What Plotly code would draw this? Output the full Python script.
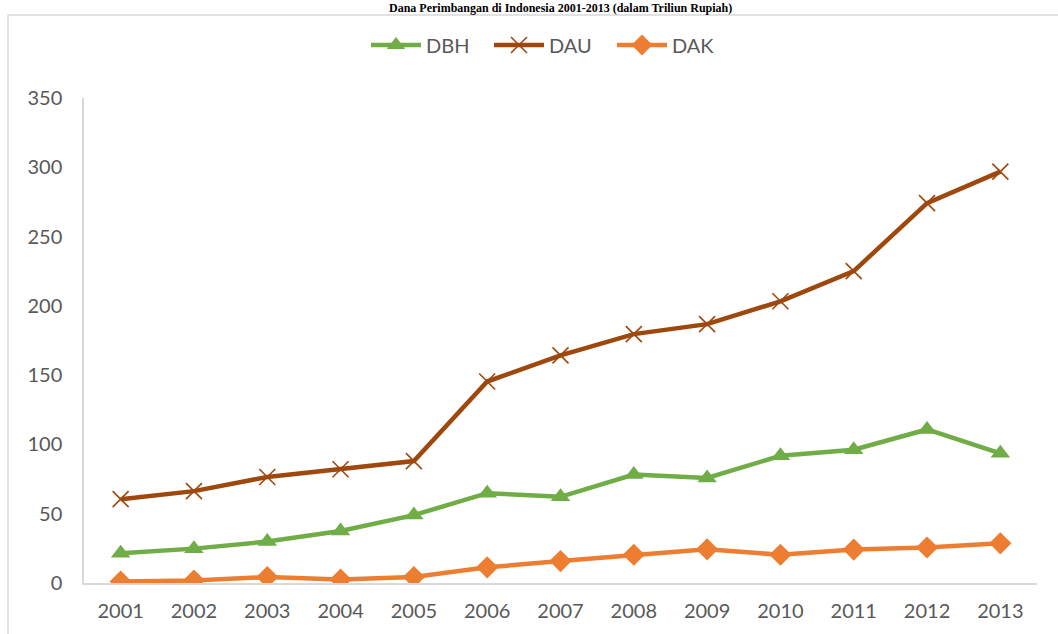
import plotly.graph_objects as go

years = ["2001", "2002", "2003", "2004", "2005", "2006", "2007",
         "2008", "2009", "2010", "2011", "2012", "2013"]
dbh = [21.4, 24.8, 29.9, 37.5, 49.0, 64.8, 62.2, 78.3, 75.8, 91.8, 96.2, 110.8, 93.6]
dau = [60.5, 66.3, 76.5, 82.1, 88.0, 145.4, 164.3, 179.6, 186.8, 203.3, 225.1, 274.1, 296.9]
dak = [1.1, 1.8, 4.3, 2.5, 4.3, 11.3, 15.8, 20.4, 24.3, 20.4, 24.1, 25.6, 28.6]
y_ticks = [0, 50, 100, 150, 200, 250, 300, 350]
title_text = "Dana Perimbangan di Indonesia 2001-2013 (dalam Triliun Rupiah)"

W, H = 1058, 634
L, R, T, B = 84, 21, 98, 51
pw, ph = W - L - R, H - T - B

def px_x(x):
    return (x - L) / pw

def px_y(y):
    return (H - B - y) / ph

fig = go.Figure()
fig.add_trace(go.Scatter(
    x=years, y=dbh, name="DBH", mode="lines+markers",
    line=dict(color="#70AD47", width=4.5),
    marker=dict(symbol="triangle-up", size=17, color="#70AD47"),
))
fig.add_trace(go.Scatter(
    x=years, y=dau, name="DAU", mode="lines+markers",
    line=dict(color="#9E480E", width=4.5),
    marker=dict(symbol="x-thin", size=16, line=dict(color="#9E480E", width=1.6)),
))
fig.add_trace(go.Scatter(
    x=years, y=dak, name="DAK", mode="lines+markers",
    line=dict(color="#ED7D31", width=4.5),
    marker=dict(symbol="diamond", size=17, color="#ED7D31"),
))

fig.update_layout(
    width=W, height=H,
    margin=dict(l=L, r=R, t=T, b=B, autoexpand=False),
    paper_bgcolor="white", plot_bgcolor="white",
    font=dict(family="Lato, 'Open Sans', sans-serif", color="#595959"),
    showlegend=True,
    legend=dict(
        orientation="h", x=px_x(366), xanchor="left",
        y=px_y(45), yanchor="middle",
        font=dict(size=20, color="#595959"),
        itemwidth=50, entrywidth=58, entrywidthmode="pixels",
        tracegroupgap=0,
    ),
    xaxis=dict(
        type="category", range=[-0.5, 12.5],
        showgrid=False, zeroline=False, automargin=False,
        showline=True, linecolor="#D9D9D9", linewidth=1.5,
        ticks="", tickfont=dict(size=20, color="#595959"),
        ticklabelstandoff=9,
    ),
    yaxis=dict(
        range=[0, 350], tickvals=y_ticks, showgrid=False, zeroline=False,
        automargin=False,
        showline=True, linecolor="#D9D9D9", linewidth=1.5,
        ticks="", tickfont=dict(size=20, color="#595959"),
        ticklabelstandoff=16,
    ),
    shapes=[dict(
        type="rect", xref="paper", yref="paper",
        x0=px_x(8), x1=px_x(1075), y0=px_y(650), y1=px_y(15),
        line=dict(color="#D9D9D9", width=1.5), fillcolor="rgba(0,0,0,0)",
        layer="below",
    )],
    annotations=[dict(
        text="<b>" + title_text + "</b>", xref="paper", yref="paper",
        x=px_x(560), xanchor="center", y=px_y(7.5), yanchor="middle",
        showarrow=False,
        font=dict(family="'Liberation Serif', 'Times New Roman', serif", size=12, color="black"),
    )],
)

fig.write_html("out.html", config={"displayModeBar": False},
               post_script="document.body.style.margin='0';")
